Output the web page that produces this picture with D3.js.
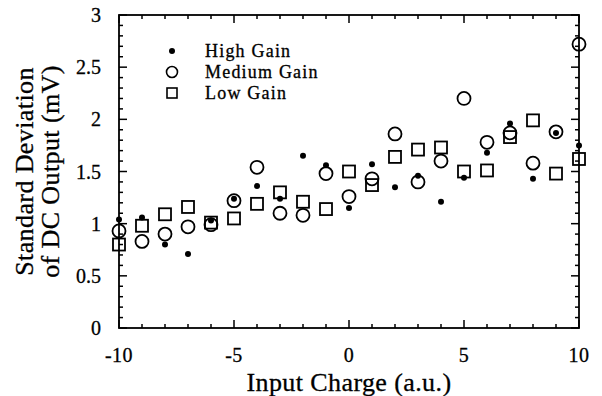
<!DOCTYPE html>
<html>
<head>
<meta charset="utf-8">
<script src="https://cdn.jsdelivr.net/npm/d3@7"></script>
<style>
  body { margin: 0; background: #fff; }
  text { font-family: "Liberation Serif", "Times New Roman", serif; fill: #000; }
</style>
</head>
<body>
<script>
// data
const charges = [-10, -9, -8, -7, -6, -5, -4, -3, -2, -1, 0, 1, 2, 3, 4, 5, 6, 7, 8, 9, 10];
const highGain = [1.04, 1.06, 0.80, 0.71, 1.03, 1.24, 1.36, 1.24, 1.65, 1.56, 1.15, 1.57, 1.35, 1.46, 1.21, 1.44, 1.68, 1.96, 1.43, 1.87, 1.75];
const mediumGain = [0.93, 0.83, 0.90, 0.97, 0.99, 1.22, 1.54, 1.10, 1.08, 1.48, 1.26, 1.43, 1.86, 1.40, 1.60, 2.20, 1.78, 1.87, 1.58, 1.88, 2.72];
const lowGain = [0.80, 0.98, 1.09, 1.16, 1.01, 1.05, 1.19, 1.30, 1.21, 1.14, 1.50, 1.37, 1.64, 1.71, 1.73, 1.50, 1.51, 1.83, 1.99, 1.48, 1.62];
const xTicks = [-10, -5, 0, 5, 10];
const yTicks = [0, 0.5, 1, 1.5, 2, 2.5, 3];
const legendLabels = ['High Gain', 'Medium Gain', 'Low Gain'];

const W = 602, H = 396;
const margin = { top: 15, right: 23, bottom: 68, left: 119 };
const width = W - margin.left - margin.right,
  height = H - margin.top - margin.bottom;

const x = d3.scaleLinear().domain([-10, 10]).range([0, width]);
const y = d3.scaleLinear().domain([0, 3]).range([height, 0]);

const svg = d3.select('body').append('svg')
  .attr('width', W)
  .attr('height', H);
const g = svg.append('g')
  .attr('transform', `translate(${margin.left},${margin.top})`);

// frame
g.append('rect')
  .attr('width', width)
  .attr('height', height)
  .attr('fill', 'none')
  .attr('stroke', '#000')
  .attr('stroke-width', 1.8);

// inward ticks on all four sides
const xMinor = d3.range(-10, 10.01, 1);
const yMinor = d3.range(0, 3.001, 0.1);
function tickLen(v, majors) { return majors.some(m => Math.abs(m - v) < 1e-6) ? 8 : 4; }

const ticks = g.append('g').attr('stroke', '#000').attr('stroke-width', 1.5);
xMinor.forEach((v) => {
  const l = tickLen(v, xTicks);
  ticks.append('line').attr('x1', x(v)).attr('x2', x(v)).attr('y1', height).attr('y2', height - l);
  ticks.append('line').attr('x1', x(v)).attr('x2', x(v)).attr('y1', 0).attr('y2', l);
});
yMinor.forEach((v) => {
  const l = tickLen(v, yTicks);
  ticks.append('line').attr('y1', y(v)).attr('y2', y(v)).attr('x1', 0).attr('x2', l);
  ticks.append('line').attr('y1', y(v)).attr('y2', y(v)).attr('x1', width).attr('x2', width - l);
});

// tick labels
g.selectAll('.xlab')
  .data(xTicks)
  .enter().append('text')
  .attr('x', d => x(d))
  .attr('y', height + 34)
  .attr('text-anchor', 'middle')
  .style('font-size', '20px')
  .style('letter-spacing', '0.5px')
  .style('stroke', '#000')
  .style('stroke-width', '0.3px')
  .text(d => d);

g.selectAll('.ylab')
  .data(yTicks)
  .enter().append('text')
  .attr('x', -18)
  .attr('y', d => y(d) + 7)
  .attr('text-anchor', 'end')
  .style('font-size', '20px')
  .style('stroke', '#000')
  .style('stroke-width', '0.3px')
  .text(d => d);

// axis titles
g.append('text')
  .attr('x', width / 2)
  .attr('y', height + 63)
  .attr('text-anchor', 'middle')
  .style('font-size', '26px')
  .style('letter-spacing', '0.4px')
  .style('stroke', '#000')
  .style('stroke-width', '0.3px')
  .text('Input Charge (a.u.)');

const yt = svg.append('text')
  .attr('transform', `translate(33,${margin.top + height / 2}) rotate(-90)`)
  .attr('text-anchor', 'middle')
  .style('font-size', '26px')
  .style('letter-spacing', '0.4px')
  .style('stroke', '#000')
  .style('stroke-width', '0.3px');
yt.append('tspan').attr('x', 0).attr('dy', 0).text('Standard Deviation');
yt.append('tspan').attr('x', 0).attr('dy', 26).text('of DC Output (mV)');

// series
g.selectAll('.low')
  .data(charges)
  .enter().append('rect')
  .attr('x', (d, i) => x(d) - 6)
  .attr('y', (d, i) => y(lowGain[i]) - 6)
  .attr('width', 12)
  .attr('height', 12)
  .attr('fill', 'none')
  .attr('stroke', '#000')
  .attr('stroke-width', 1.8);

g.selectAll('.med')
  .data(charges)
  .enter().append('circle')
  .attr('cx', d => x(d))
  .attr('cy', (d, i) => y(mediumGain[i]))
  .attr('r', 6.5)
  .attr('fill', 'none')
  .attr('stroke', '#000')
  .attr('stroke-width', 1.8);

g.selectAll('.high')
  .data(charges)
  .enter().append('circle')
  .attr('cx', d => x(d))
  .attr('cy', (d, i) => y(highGain[i]))
  .attr('r', 3)
  .attr('fill', '#000');

// legend
const leg = svg.append('g');
leg.append('circle').attr('cx', 172).attr('cy', 51).attr('r', 3).attr('fill', '#000');
leg.append('circle').attr('cx', 172).attr('cy', 72).attr('r', 5.5)
  .attr('fill', 'none').attr('stroke', '#000').attr('stroke-width', 1.6);
leg.append('rect').attr('x', 167).attr('y', 88).attr('width', 10).attr('height', 10)
  .attr('fill', 'none').attr('stroke', '#000').attr('stroke-width', 1.6);
leg.selectAll('.ltxt')
  .data(legendLabels)
  .enter().append('text')
  .attr('x', 205)
  .attr('y', (d, i) => 57 + i * 21)
  .style('font-size', '18px')
  .style('letter-spacing', '1.2px')
  .style('stroke', '#000')
  .style('stroke-width', '0.3px')
  .text(d => d);
</script>
</body>
</html>
